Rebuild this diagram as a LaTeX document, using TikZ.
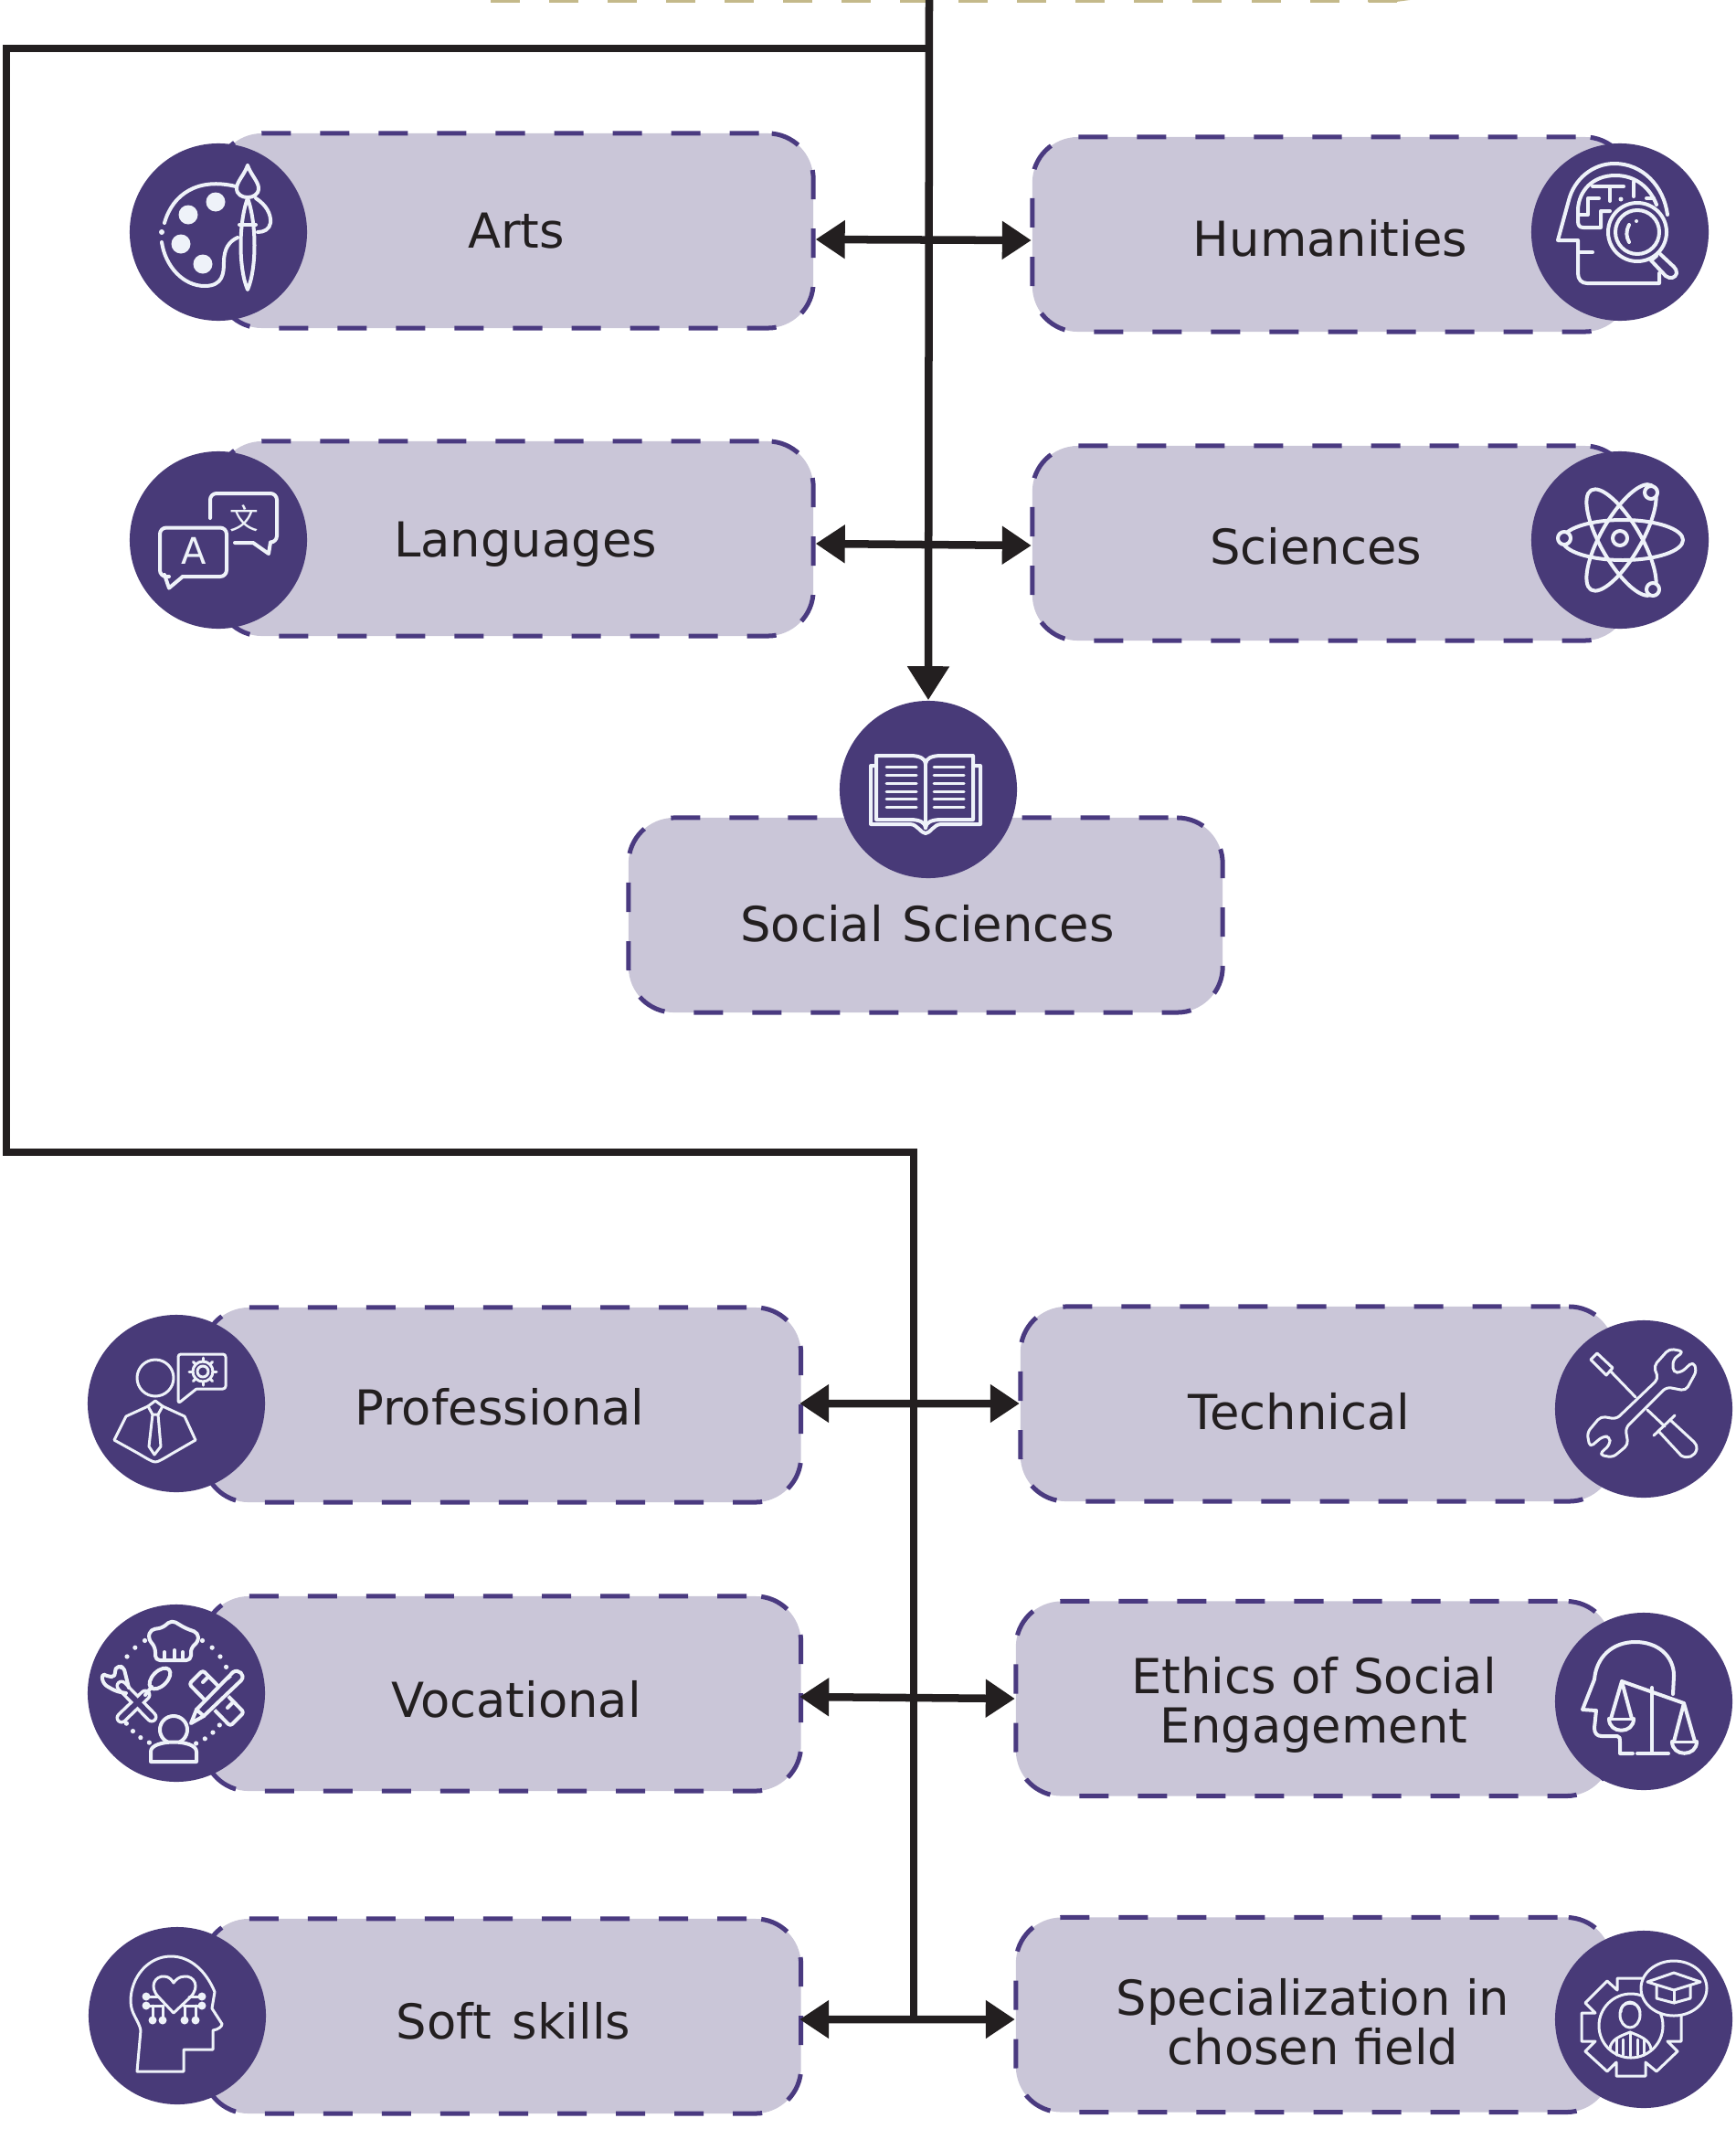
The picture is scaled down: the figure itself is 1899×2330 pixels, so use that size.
\documentclass[tikz,border=0pt]{standalone}
\usepackage{fontspec}
\setmainfont{DejaVu Sans}
\newfontfamily\cjk{Noto Sans CJK SC}
\usetikzlibrary{arrows.meta}
\definecolor{deeppurple}{HTML}{483A78}
\definecolor{palepurple}{HTML}{CAC6D8}
\definecolor{dashpurple}{HTML}{4A3A80}
\definecolor{inkblack}{HTML}{231F20}
\definecolor{iconwhite}{HTML}{EEF2F9}
\definecolor{palegold}{HTML}{C4B98A}
\tikzset{
    boxnode/.style={draw=dashpurple, fill=palepurple, rectangle, rounded corners=0.5cm, inner sep=0pt, minimum height=2.13cm, line width=0.05cm, dash pattern=on 0.32cm off 0.32cm, dash phase=0.545cm},
    iconnode/.style={circle, fill=deeppurple, inner sep=0pt, minimum size=1.94cm},
    labeltext/.style={font=\fontsize{15}{15.2}\selectfont, text=inkblack, align=center, inner sep=0pt},
    wireline/.style={draw=inkblack, line width=0.085cm},
    twoway/.style={wireline, {Triangle[length=0.32cm,width=0.4cm]}-{Triangle[length=0.32cm,width=0.4cm]}, shorten >=-0.015cm},
    twowaylow/.style={twoway, shorten <=-0.04cm, shorten >=-0.015cm},
    iconline/.style={draw=iconwhite, line width=0.04cm, line cap=round, line join=round},
    iconthin/.style={iconline, line width=0.03cm},
    iconfill/.style={fill=iconwhite, draw=none}
}
\begin{document}
\begin{tikzpicture}[x=0.01cm, y=-0.01cm]
    \useasboundingbox (0,0) rectangle (1899,2330);

    \draw[draw=palegold, line width=0.05cm, dash pattern=on 0.32cm off 0.32cm] (537,0) -- (1529,0);
    \fill[palegold] (1497,0) -- (1543,0) -- (1525,2.4) -- (1497,2.4) -- cycle;

    \node (arts) [boxnode, minimum width=6.53cm] at (563.5,252.5) {};
    \node (humanities) [boxnode, minimum width=6.54cm] at (1457,256.5) {};
    \node (languages) [boxnode, minimum width=6.53cm] at (563.5,589.5) {};
    \node (sciences) [boxnode, minimum width=6.54cm] at (1457,594.5) {};
    \node (social) [boxnode, minimum width=6.5cm] at (1013,1001.5) {};
    \node (professional) [boxnode, minimum width=6.54cm] at (549.5,1537.5) {};
    \node (vocational) [boxnode, minimum width=6.54cm] at (549.5,1853.5) {};
    \node (softskills) [boxnode, minimum width=6.54cm] at (549.5,2206.5) {};
    \node (technical) [boxnode, minimum width=6.5cm] at (1442,1536.5) {};
    \node (ethics) [boxnode, minimum width=6.52cm] at (1438,1859) {};
    \node (specialization) [boxnode, minimum width=6.52cm] at (1438,2205) {};

    \node (artsicon) [iconnode] at (239,254) {};
    \node (humanitiesicon) [iconnode] at (1773,254) {};
    \node (languagesicon) [iconnode] at (239,591) {};
    \node (sciencesicon) [iconnode] at (1773,591) {};
    \node (socialicon) [iconnode] at (1016,864) {};
    \node (professionalicon) [iconnode] at (193,1536) {};
    \node (vocationalicon) [iconnode] at (193,1853) {};
    \node (softskillsicon) [iconnode] at (194,2206) {};
    \node (technicalicon) [iconnode] at (1799,1542) {};
    \node (ethicsicon) [iconnode] at (1799,1862) {};
    \node (specializationicon) [iconnode] at (1799,2210) {};

    \node (artstext) [labeltext] at (565,253) {Arts};
    \node (humanitiestext) [labeltext] at (1456,261) {Humanities};
    \node (languagestext) [labeltext] at (575,596) {Languages};
    \node (sciencestext) [labeltext] at (1440,598) {Sciences};
    \node (socialtext) [labeltext] at (1015,1011) {Social\hspace{0.08em} Sciences};
    \node (professionaltext) [labeltext] at (547,1540) {Professional};
    \node (vocationaltext) [labeltext] at (565,1860) {Vocational};
    \node (softskillstext) [labeltext] at (562,2212) {Soft\hspace{0.12em} skills};
    \node (technicaltext) [labeltext] at (1422,1545) {Technical};
    \node (ethicstext) [labeltext] at (1438,1866) {Ethics of Social\\Engagement};
    \node (specializationtext) [labeltext] at (1437,2213) {Specialization in\\chosen field};

    \coordinate (trunktop) at (1017,0);
    \coordinate (framestart) at (1017,53);
    \coordinate (framecornerone) at (7,53);
    \coordinate (framecornertwo) at (7,1261);
    \coordinate (framecornerthree) at (1000,1261);
    \coordinate (frameend) at (1000,2210);

    \draw[wireline, -{Triangle[length=0.37cm,width=0.44cm]}] (trunktop) -- (socialicon.north);
    \draw[wireline] (framestart) -- (framecornerone) -- (framecornertwo) -- (framecornerthree) -- (frameend);

    \draw[twoway] ([yshift=-0.095cm]arts.east) -- ([yshift=-0.065cm]humanities.west);
    \draw[twoway] ([yshift=-0.055cm]languages.east) -- ([yshift=-0.025cm]sciences.west);
    \draw[twowaylow] ([yshift=0.015cm]professional.east) -- ([yshift=0.005cm]technical.west);
    \draw[twowaylow] ([yshift=-0.035cm]vocational.east) -- ([yshift=-0.0cm]ethics.west);
    \draw[twowaylow] ([yshift=-0.035cm]softskills.east) -- ([yshift=-0.05cm]specialization.west);

    \begin{scope}[shift={(artsicon.center)}]
        \draw[iconline] (-59,-10) .. controls (-50,-42) and (-22,-60) .. (19,-50);
        \draw[iconline] (-62,11) .. controls (-58,38) and (-38,59) .. (-15,59) .. controls (5,59) and (6,45) .. (6,33) .. controls (6,18) and (12,10) .. (21,6);
        \fill[iconfill] (-62,0) circle (3);
        \foreach \blobx/\bloby in {-33/-19, -3/-33, -41/13, -17/35} {
            \fill[iconfill] (\blobx,\bloby) circle (10.5);
        }
        \draw[iconline] (32,-37) .. controls (22,-10) and (22,40) .. (32,63) .. controls (42,40) and (42,-10) .. (32,-37);
        \draw[iconline] (32,-73) .. controls (28,-62) and (20,-55) .. (20,-48) .. controls (20,-41) and (26,-38) .. (32,-38) .. controls (38,-38) and (44,-41) .. (44,-48) .. controls (44,-55) and (36,-62) .. (32,-73);
        \draw[iconline] (23,-8) -- (41,-8);
        \draw[iconline] (41,-37) .. controls (52,-30) and (58,-20) .. (57,-10) .. controls (56,-3) and (50,0) .. (43,0);
    \end{scope}

    \begin{scope}[shift={(humanitiesicon.center)}]
        \draw[iconline] (52,-19) .. controls (48,-50) and (25,-75) .. (-6,-75) .. controls (-30,-75) and (-50,-58) .. (-56,-35) -- (-68,9) -- (-46,9) -- (-46,45) .. controls (-46,52) and (-42,56) .. (-36,56) -- (43,56) -- (43,45);
        \draw[iconline] (-46,22) -- (-30,22);
        \draw[iconline] (40,-30) .. controls (33,-48) and (18,-62) .. (-5,-62) .. controls (-30,-62) and (-45,-45) .. (-46,-25) -- (-46,-12) .. controls (-46,-7) and (-44,-5) .. (-40,-5) -- (-21,-5) -- (-21,-23) -- (-11,-23);
        \draw[iconline] (-45,-19) -- (-35,-19) -- (-35,-37) -- (-23,-37);
        \draw[iconline] (-30,-50) -- (4,-50);
        \draw[iconline] (-11,-50) -- (-11,-34);
        \draw[iconline] (15,-55) -- (15,-39);
        \draw[iconline] (29,-37) -- (37,-37);
        \fill[iconfill] (1,-36) circle (2.5);
        \fill[deeppurple] (19,0) circle (32);
        \draw[iconline] (19,0) circle (32);
        \draw[iconline] (19,0) circle (24);
        \draw[iconline] (10,-8) .. controls (6,0) and (7,5) .. (10,11);
        \fill[iconfill] (18,-12) circle (2);
        \draw[iconline] (40,26) -- (34,31) -- (50,48) .. controls (55,52) and (61,50) .. (62,45) .. controls (62,42) and (61,40) .. (59,38) -- (44,24);
    \end{scope}

    \begin{scope}[shift={(languagesicon.center)}]
        \draw[iconline, rounded corners=0.07cm] (-54,40) -- (-64,40) -- (-64,-13.5) -- (9,-13.5) -- (9,40) -- (-39,40);
        \draw[iconline] (-59,38) -- (-54,52.6) -- (-39,40);
        \draw[iconline, rounded corners=0.07cm] (-9,-24) -- (-9,-51) -- (64,-51) -- (64,2.5) -- (57,2.5);
        \draw[iconline] (57,2.5) -- (55,15) -- (38,3) -- (18,3);
        \node (letterlatin) [text=iconwhite, inner sep=0pt, font=\fontsize{11.4}{12}\selectfont] at (-27,12) {A};
        \node (lettercjk) [text=iconwhite, inner sep=0pt, font=\cjk\fontsize{9}{10}\selectfont] at (28,-24) {文};
    \end{scope}

    \begin{scope}[shift={(sciencesicon.center)}]
        \foreach \ang in {0,60,-60} {
            \draw[iconline, rotate=\ang] (3,0) ellipse (66 and 22);
        }
        \draw[iconline] (0,-2) circle (8);
        \foreach \orbx/\orby in {-61/-2, 34/-52, 36/54} {
            \filldraw[iconline, fill=deeppurple] (\orbx,\orby) circle (7);
        }
    \end{scope}

    \begin{scope}[shift={(socialicon.center)}]
        \draw[iconline] (-3,-28) .. controls (-3,-34) and (-10,-37) .. (-20,-37) -- (-57,-37) -- (-57,33) -- (-20,33) .. controls (-10,33) and (-3,36) .. (-3,42);
        \draw[iconline] (-3,-28) .. controls (-3,-34) and (4,-37) .. (14,-37) -- (49,-37) -- (49,33) -- (14,33) .. controls (4,33) and (-3,36) .. (-3,42);
        \draw[iconline] (-3,-28) -- (-3,42);
        \draw[iconline] (-57,-26) -- (-63,-26) -- (-63,38) -- (-20,38) .. controls (-12,38) and (-8,48) .. (-3,48) .. controls (2,48) and (6,38) .. (14,38) -- (57,38) -- (57,-26) -- (49,-26);
        \foreach \rowy in {-25,-16,-7,2,10,19} {
            \draw[iconthin] (-46,\rowy) -- (-13,\rowy);
            \draw[iconthin] (6,\rowy) -- (39,\rowy);
        }
    \end{scope}

    \begin{scope}[shift={(professionalicon.center)}]
        \draw[iconthin] (-23,-28) circle (20);
        \draw[iconthin] (-15,3) -- (9,14) -- (21,40) -- (-5,55) .. controls (-15,61) and (-20,64) .. (-23,64) .. controls (-26,64) and (-31,61) .. (-41,55) -- (-68,40) -- (-55,14) -- (-31,3);
        \draw[iconthin] (-31,3) -- (-23,-3) -- (-15,3) -- (-20,12) -- (-26,12) -- cycle;
        \draw[iconthin] (-26,12) -- (-30,47) -- (-24,56) -- (-17,47) -- (-20,12);
        \draw[iconthin, rounded corners=0.03cm] (22,-16) -- (54,-16) -- (54,-54) -- (2,-54) -- (2,0) -- (22,-16);
        \draw[iconthin] (29,-35) circle (11);
        \draw[iconthin] (29,-35) circle (6);
        \foreach \ang in {0,45,...,315} {
            \draw[iconthin] (29,-35) ++(\ang:11) -- ++(\ang:4);
        }
    \end{scope}

    \begin{scope}[shift={(vocationalicon.center)}]
        \draw[iconline, rounded corners=0.05cm] (-23,-36) -- (-23,-50) -- (-31,-60) -- (-28,-70) -- (-16,-71) -- (-5,-80) -- (10,-71) -- (24,-66) -- (24,-56) -- (16,-50) -- (16,-36) -- cycle;
        \draw[iconline] (-13,-45) -- (-13,-36);
        \draw[iconline] (-2,-47) -- (-2,-36);
        \draw[iconline] (7,-45) -- (7,-36);
        \foreach \ang in {-120,-132,-144,-156,-60,-48,-36,-24,-12,145,135,125,115,67,57,47,37} {
            \fill[iconfill] (-3,-3) ++(\ang:63) circle (2.6);
        }
        \draw[iconwhite, line width=0.13cm, line cap=round] (-60,-8) -- (-27,26);
        \draw[iconwhite, line width=0.13cm, line cap=round] (-60,27) -- (-34,2);
        \draw[deeppurple, line width=0.06cm, line cap=round] (-60,-8) -- (-27,26);
        \draw[deeppurple, line width=0.06cm, line cap=round] (-60,27) -- (-34,2);
        \draw[iconline, rounded corners=0.05cm] (-52,-6) -- (-58,-30) -- (-68,-28) -- (-66,-18) -- (-75,-18) -- (-82,-22) -- (-80,-10) -- (-66,-2) -- (-55,0);
        \draw[iconline] (-34,2) -- (-27,-7);
        \draw[iconline, rotate around={45:(-18,-16)}] (-18,-16) ellipse (14 and 8);
        \draw[iconline, rounded corners=0.03cm] (29,-25) -- (14,-10) -- (59,36) -- (74,21) -- cycle;
        \draw[iconline] (35,-18) -- (29,-12);
        \draw[iconline] (62,10) -- (56,16);
        \fill[deeppurple] (66,-22) -- (74,-14) -- (30,30) -- (16,33) -- (20,18) -- cycle;
        \draw[iconline] (62,-23) .. controls (68,-27) and (76,-20) .. (71,-14) -- (30,25) -- (16,33) -- (22,18) -- cycle;
        \draw[iconline] (22,18) -- (30,25);
        \draw[iconline] (-3,40) circle (15);
        \fill[deeppurple] (-28,75) -- (-28,64) .. controls (-28,50) and (22,50) .. (22,64) -- (22,75) -- cycle;
        \draw[iconline] (-28,75) -- (-28,64) .. controls (-28,50) and (22,50) .. (22,64) -- (22,75) -- cycle;
    \end{scope}

    \begin{scope}[shift={(softskillsicon.center)}]
        \draw[iconthin] (-44,61) -- (-40,16) .. controls (-42,5) and (-51,-2) .. (-51,-16) .. controls (-51,-42) and (-32,-65) .. (-7,-65) .. controls (15,-65) and (32,-48) .. (41,-26) -- (38,-8) -- (49,9) .. controls (49,12) and (45,15) .. (39,16) -- (39,37) -- (7,37) -- (7,61) -- cycle;
        \draw[iconthin] (-4,-3) -- (-20,-20) .. controls (-32,-32) and (-24,-44) .. (-14,-43) .. controls (-9,-43) and (-6,-39) .. (-4,-36) .. controls (-2,-39) and (2,-43) .. (8,-43) .. controls (18,-44) and (26,-32) .. (14,-20) -- cycle;
        \foreach \wirex/\wirey/\wirej in {-34/-21/-21, -34/-11/-15, 27/-21/13, 27/-11/7} {
            \draw[iconthin] (\wirex,\wirey) -- (\wirej,\wirey);
            \fill[iconfill] (\wirex,\wirey) circle (4.5);
        }
        \foreach \wirex in {-27,-16,8,20} {
            \draw[iconthin] (\wirex,5) -- (\wirex,-11);
            \fill[iconfill] (\wirex,5) circle (4.5);
        }
    \end{scope}

    \begin{scope}[shift={(technicalicon.center)}]
        \draw[iconthin] (-58,-54) -- (-51,-61) -- (-34,-45) -- (-41,-37) -- cycle;
        \draw[iconthin] (-37,-42) -- (-9,-13);
        \draw[iconthin] (4,1) -- (23,19);
        \draw[iconthin] (11,29) -- (34,7);
        \draw[iconthin] (16,24) -- (41,51) .. controls (48,55) and (56,52) .. (58,44) .. controls (58,40) and (57,38) .. (55,36) -- (29,12);
        \draw[iconthin, rounded corners=0.05cm] (16,-33) -- (-30,11) -- (-47,8) -- (-62,26) -- (-59,42) -- (-45,30) -- (-37,30) -- (-37,39) -- (-49,50) -- (-34,53) -- (-17,39) -- (-20,21) -- (25,-24) -- (46,-20) -- (58,-42) -- (54,-52) -- (41,-40) -- (32,-40) -- (32,-54) -- (44,-63) -- (28,-66) -- (11,-47) -- cycle;
    \end{scope}

    \begin{scope}[shift={(ethicsicon.center)}]
        \draw[iconline] (32,-8) -- (33,-28) .. controls (33,-50) and (15,-65) .. (-9,-65) .. controls (-35,-65) and (-52,-48) .. (-54,-24) -- (-67,9) -- (-52,10) -- (-54,29) .. controls (-54,35) and (-51,38) .. (-46,38) -- (-29,38) .. controls (-26,38) and (-26,41) .. (-26,44) -- (-26,57) -- (-12,57);
        \draw[iconline] (-24,-22) -- (44,2);
        \draw[iconline] (9,-15) -- (9,56);
        \draw[iconline] (-7,57) -- (27,57);
        \draw[iconline] (-36,19) -- (-24,-22) -- (-13,19);
        \draw[iconthin] (-38,19) -- (-11,19);
        \draw[iconline] (-38,19) .. controls (-38,36) and (-11,36) .. (-11,19);
        \draw[iconline] (33,44) -- (44,2) -- (56,44);
        \draw[iconthin] (31,44) -- (58,44);
        \draw[iconline] (31,44) .. controls (31,61) and (58,61) .. (58,44);
    \end{scope}

    \begin{scope}[shift={(specializationicon.center)}]
        \draw[iconthin] (-1,-45) -- (-29,-45) -- (-29,-32) -- (-40,-42) -- (-64,-18) -- (-53,-7) -- (-68,-7) -- (-68,24) -- (-53,24) -- (-64,35) -- (-40,57) -- (-30,47) -- (-30,62) -- (2,62) -- (2,47) -- (14,57) -- (37,35) -- (26,24) -- (41,24) -- (41,-5);
        \draw[iconthin] (-14,7) circle (35);
        \draw[iconthin] (-15,-5) ellipse (11 and 14);
        \draw[iconthin] (-25,-8) .. controls (-27,-20) and (-5,-22) .. (-4,-8);
        \draw[iconthin] (-37,33) .. controls (-37,22) and (-25,18) .. (-15,14) .. controls (-5,18) and (7,22) .. (8,33);
        \foreach \rowx in {-30,-23,-7,0} {
            \draw[iconthin] (\rowx,22) -- (\rowx,39);
        }
        \draw[iconthin] (-15,14) -- (-15,40);
        \filldraw[iconthin, fill=deeppurple] (33,-34) ellipse (36 and 30);
        \draw[iconthin] (4,-41) -- (33,-51) -- (62,-41) -- (33,-32) -- cycle;
        \draw[iconthin] (14,-37) -- (14,-23) -- (33,-18) -- (51,-23) -- (51,-37);
        \draw[iconthin] (33,-32) -- (33,-18);
    \end{scope}
\end{tikzpicture}
\end{document}
